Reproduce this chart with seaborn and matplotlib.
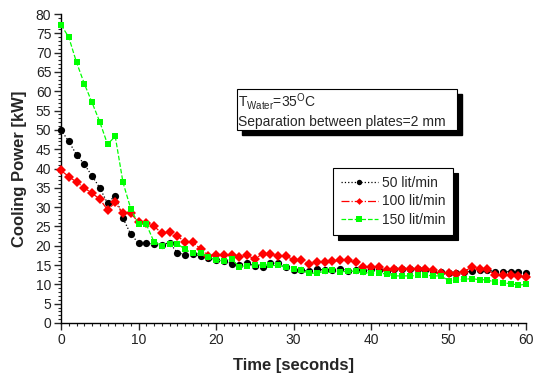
import matplotlib
matplotlib.use("Agg")
import matplotlib.pyplot as plt
import seaborn as sns
import numpy as np
import pandas as pd
from matplotlib.patches import Rectangle
from matplotlib.ticker import MultipleLocator

time_s = list(range(0, 61))
flow_50 = [50.0, 47.0, 43.6, 41.1, 38.1, 35.0, 31.0, 33.0, 27.1, 23.0,
           20.7, 20.7, 20.4, 20.3, 20.8, 18.2, 17.7, 17.9, 17.3, 16.9,
           16.3, 16.1, 15.4, 15.0, 15.5, 14.8, 14.5, 15.5, 15.5, 14.5,
           13.7, 13.6, 13.4, 14.1, 13.6, 13.6, 14.1, 13.5, 13.6, 13.4,
           14.0, 13.8, 13.5, 14.1, 14.1, 14.0, 13.9, 13.8, 13.5, 13.2,
           12.9, 12.9, 13.1, 13.5, 13.7, 13.7, 13.3, 13.3, 13.3, 13.3, 12.9]
flow_100 = [39.5, 37.9, 36.5, 35.0, 33.6, 32.1, 29.3, 31.2, 28.4, 28.4,
            26.1, 26.0, 25.1, 23.2, 23.6, 22.6, 20.9, 20.9, 19.2, 17.4,
            17.7, 17.7, 17.5, 17.2, 17.5, 16.6, 17.9, 17.9, 17.3, 17.3,
            16.4, 16.2, 15.4, 15.7, 15.9, 16.0, 16.2, 16.2, 15.7, 14.6,
            14.4, 14.4, 13.6, 14.0, 14.0, 13.9, 13.9, 13.9, 13.6, 12.9,
            12.9, 12.7, 13.3, 14.5, 14.1, 13.9, 12.4, 12.3, 12.3, 12.2, 12.0]
flow_150 = [77.2, 74.0, 67.5, 62.0, 57.1, 52.1, 46.3, 48.3, 36.4, 29.6,
            25.6, 25.6, 21.0, 20.0, 20.4, 20.5, 19.1, 18.0, 18.0, 17.2,
            16.3, 16.1, 16.5, 14.6, 14.8, 14.9, 15.1, 14.9, 14.9, 14.5,
            13.9, 13.6, 12.9, 12.9, 13.4, 13.7, 13.2, 13.4, 13.4, 13.1,
            12.9, 12.9, 12.7, 12.2, 12.2, 12.2, 12.3, 12.4, 12.2, 12.2,
            11.0, 11.1, 11.3, 11.5, 11.2, 11.2, 10.5, 10.4, 10.2, 9.8, 10.0]
series_labels = ["50 lit/min", "100 lit/min", "150 lit/min"]

sns.set_style("ticks")
plt.rcParams['font.family'] = ['Liberation Sans', 'DejaVu Sans']
plt.rcParams['mathtext.fontset'] = 'custom'
plt.rcParams['mathtext.rm'] = 'Liberation Sans'

fig = plt.figure(figsize=(5.33, 3.75), dpi=100)
ax = fig.add_axes([61/533, 52/375, 465/533, 309/375])

styles = [
    dict(color="black", linestyle=":", marker="o", markersize=5.2),
    dict(color="#ff0000", linestyle="-.", marker="D", markersize=4.6),
    dict(color="#00ff00", linestyle="--", marker="s", markersize=5.0),
]
for vals, lab, st in zip([flow_50, flow_100, flow_150], series_labels, styles):
    df = pd.DataFrame({"t": time_s, "p": vals})
    sns.lineplot(data=df, x="t", y="p", ax=ax, label=lab, linewidth=0.9,
                 markeredgewidth=0, clip_on=False, zorder=3, **st)

ax.set_xlim(0, 60)
ax.set_ylim(0, 80)
ax.xaxis.set_major_locator(MultipleLocator(10))
ax.xaxis.set_minor_locator(MultipleLocator(1))
ax.yaxis.set_major_locator(MultipleLocator(5))
ax.yaxis.set_minor_locator(MultipleLocator(1))
ax.tick_params(which="major", direction="out", length=5, width=1, labelsize=10,
               labelcolor="#222222", pad=2)
ax.tick_params(which="minor", direction="out", length=2.5, width=0.8)
for side in ["top", "right"]:
    ax.spines[side].set_visible(False)
for side in ["left", "bottom"]:
    ax.spines[side].set_linewidth(1.0)
    ax.spines[side].set_color("black")

ax.set_xlabel("Time [seconds]", fontsize=12, fontweight="bold", labelpad=8)
ax.set_ylabel("Cooling Power [kW]", fontsize=12, fontweight="bold", labelpad=6)

# annotation box with shadow
bx0, by0, bw, bh = 22.7, 50.0, 28.4, 10.6
dx, dy = 5/7.75, 5/3.8625
ax.add_patch(Rectangle((bx0 + dx, by0 - dy), bw, bh, facecolor="black",
                       edgecolor="black", zorder=4, clip_on=False))
ax.add_patch(Rectangle((bx0, by0), bw, bh, facecolor="white",
                       edgecolor="black", linewidth=0.8, zorder=5, clip_on=False))
ax.text(bx0 + 0.15, by0 + bh - 0.6,
        r"T$_{\mathregular{Water}}$=35$^{\mathregular{O}}$C" + "\nSeparation between plates=2 mm",
        fontsize=10, va="top", ha="left", zorder=6, linespacing=1.25)

leg = ax.legend(loc="upper left", bbox_to_anchor=(0.585, 0.502), borderaxespad=0,
                frameon=True, fancybox=False, edgecolor="black", framealpha=1,
                fontsize=10, handlelength=2.7, handletextpad=0.25,
                labelspacing=0.35, borderpad=0.55, markerscale=0.75,
                shadow={"ox": 3.6, "oy": -3.6, "color": "black", "alpha": 1})
leg.get_frame().set_linewidth(0.8)
leg.set_zorder(7)

fig.savefig("out.png", dpi=100)
